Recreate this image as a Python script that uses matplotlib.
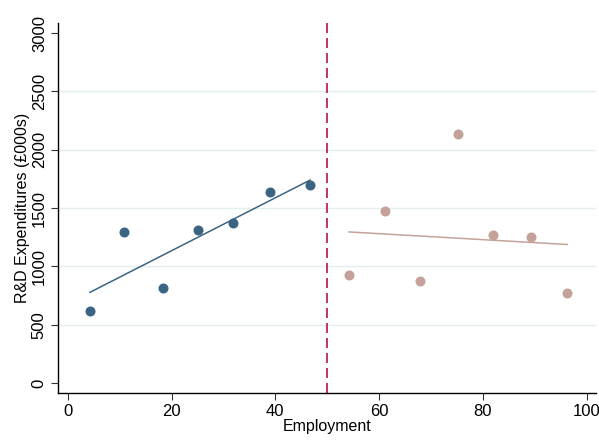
import numpy as np
import matplotlib
matplotlib.use("Agg")
import matplotlib.pyplot as plt

plt.rcParams['font.family'] = ['Liberation Sans', 'DejaVu Sans']

# Data
emp_left = [4.25, 10.8, 18.3, 25.1, 31.9, 39.0, 46.7]
rd_left = [615, 1299, 812, 1316, 1376, 1641, 1701]
emp_right = [54.2, 61.2, 67.8, 75.3, 82.0, 89.2, 96.3]
rd_right = [923, 1479, 872, 2137, 1265, 1248, 769]
cutoff = 50
x_ticks = [0, 20, 40, 60, 80, 100]
y_ticks = [0, 500, 1000, 1500, 2000, 2500, 3000]
grid_vals = [500, 1000, 1500, 2000, 2500]

c_left = '#3b6482'
c_right = '#c4a29a'
c_cut = '#b8143f'

fig = plt.figure(figsize=(5.99, 4.45), dpi=100)
ax = fig.add_axes([0.0968, 0.1169, 0.898, 0.831])

for g in grid_vals:
    ax.axhline(g, color='#e4eeef', lw=1.0, zorder=0)

ax.scatter(emp_left, rd_left, s=52, color=c_left, zorder=3, linewidths=0)
ax.scatter(emp_right, rd_right, s=52, color=c_right, zorder=3, linewidths=0)

bl = np.polyfit(emp_left, rd_left, 1)
xl = np.array([min(emp_left), max(emp_left)])
ax.plot(xl, np.polyval(bl, xl), color=c_left, lw=1.1, zorder=2)
br = np.polyfit(emp_right, rd_right, 1)
xr = np.array([min(emp_right), max(emp_right)])
ax.plot(xr, np.polyval(br, xr), color=c_right, lw=1.1, zorder=2)

ax.axvline(cutoff, color=c_cut, lw=1.2, ls=(0, (6, 3)), zorder=2)

ax.set_xlim(-1.9, 101.8)
ax.set_ylim(-85, 3085)
ax.set_xticks(x_ticks)
ax.set_yticks(y_ticks)
ax.set_yticklabels([str(v) for v in y_ticks], rotation=90, va='center')
ax.tick_params(axis='both', labelsize=12, length=5, width=0.8, color='#333333', pad=3)
for s in ['top', 'right']:
    ax.spines[s].set_visible(False)
for s in ['left', 'bottom']:
    ax.spines[s].set_linewidth(1.0)
ax.set_xlabel('Employment', fontsize=11.5, labelpad=0)
ax.set_ylabel('R&D Expenditures (£000s)', fontsize=11.5, labelpad=1)

fig.savefig('out.png', dpi=100)
